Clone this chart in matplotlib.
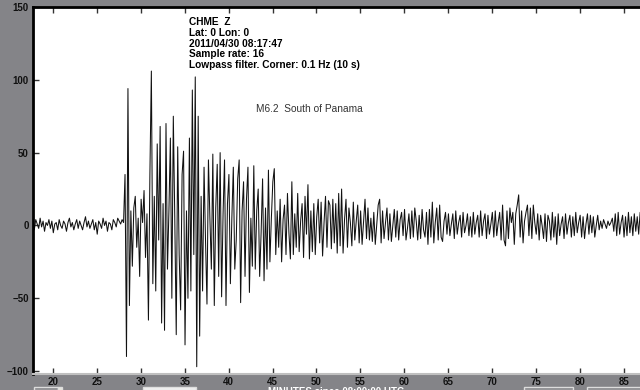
import numpy as np
import matplotlib
matplotlib.use("Agg")
import matplotlib.pyplot as plt
from matplotlib.patches import Rectangle

# trace: one value every 10 s, starting at 17.7 minutes after 08:00 UTC
start_min = 17.7
step_min = 1.0 / 6.0
trace = [
    # pre-event noise
    2, -3, 4, 1, -2, 5, -1, 3, -4, 2,
    0, 4, -2, 3, -5, 1, 2, -3, 4, 0,
    -2, 3, 1, -4, 2, 5, -1, 2, -3, 1,
    4, -2, 3, 0, -3, 2, 6, -1, 3, -2,
    1, 4, -3, 2, -6, 3, 1, -2, 5, 0,
    3, -4, 2, 1, -3, 4, 2, -1, 5, 3,
    1, 4, 2,
    # onset and strongest shaking
    35, -90, 94, -55, 10, -28, 12, 20, -15, 5,
    -35, 18, 2, 24, -22, 8, -65, 35, 106, -40,
    20, -45, 56, -10, 68, -67, 15, -72, 70, -30,
    10, 60, -50, 75, 5, -75, 54, -20, -58, 35,
    51, -82, 10, -50, 60, -45, 93, -20, 102, -97,
    75, -76, 20, -45, 40, -10, -54, 45, 5, -30,
    49, -55, 12, 42, -35, 50, -49, 8, 45, -55,
    15, 35, -40, 5, 40, -30, -10, 32, 45, -53,
    10, 30, -35, 18, 40, -46, 5, -28, 41, -30,
    10, 25, -35, -5, 32, -38, 12, -30, 38, -25,
    5, 30, 39, -20, 10, -15, 18, -25, 4, 14,
    -20, 22, -5, -23, 30, -20, 8, -15, 22, -18,
    3, 15, -22, 20, -6, 28, -23, 10, -18, 15,
    -20, 6, 18, -12, 16, -21, 2, 20, -15, 17,
    14, -16, 18, -12, 15, -19, 22, -14,
    # coda
    25, -19, 4, 18, -15, 12, 2, -14, 16, -10,
    3, 14, -12, 10, -13, 2, 18, -9, 12, -10,
    5, -11, 9, -13, 1, 14, 18, -12, 10, -9,
    2, 12, -10, 8, -11, 0, 11, -8, 10, -10,
    4, 9, -7, 11, -10, -2, 8, -9, 10, -8,
    12, 3, -10, 7, -9, 11, -3, -8, 9, -13,
    11, -8, 16, -12, 2, 12, -10, 14, -8, -11,
    3, 9, -6, 8, -7, 1, 8, -9, 10, -6,
    2, 7, -8, 9, -5, 0, 8, -7, 6, -8,
    9, -6, 2, 7, -8, 10, -7, 3, 8, -9,
    7, -6, 1, 9, -8, 10, -7, 2, 9, -10,
    14, -10, -14, 10, -9, 12, 2, 9, -13, 8,
    14, 21, -8, 10, -12, 3, 9, 14, -7, 12,
    -9, 14, 2, -6, 8, -10, 7, 0, -9, 8,
    -11, 7, 3, -10, 9, -8, 6, -13, 8, -7,
    1, 6, -9, 8, -6, 2, 7, -8, 6, -7,
    9, -5, 2, 7, -8, 6, -9, 1, 8, -6,
    7, -5, 6, -8, 0, 7, -3, 3, -2, 4,
    1, -2, 3, 0, 2, 5, -4, 8, -7, 9,
    -6, 2, 7, -8, 6, -7, 9, -5, 6, -7,
    8, -4, 6, -6, 9, -3, 4, 2,
]

x_ticks = list(range(20, 90, 5))
y_ticks = [-100, -50, 0, 50, 100, 150]

header_lines = [
    "CHME  Z",
    "Lat: 0 Lon: 0",
    "2011/04/30 08:17:47",
    "Sample rate: 16",
    "Lowpass filter. Corner: 0.1 Hz (10 s)",
]
event_label = "M6.2  South of Panama"
x_caption = "MINUTES since 08:00:00 UTC"

W, H = 640, 390
bg = "#848488"

fig = plt.figure(figsize=(W / 100, H / 100), dpi=100)
fig.patch.set_facecolor(bg)
ax = fig.add_axes([33 / W, (H - 374) / H, (W - 33) / W, 367 / H])
ax.set_facecolor("white")

t = start_min + step_min * np.arange(len(trace))
ax.plot(t, trace, color="#111111", lw=0.75)

ax.set_xlim(17.72, 86.85)
ax.set_ylim(-102, 150)
ax.set_xticks(x_ticks)
ax.set_yticks(y_ticks)
ax.tick_params(axis="x", direction="in", top=True, length=4, width=1,
               color="#333333", pad=2.5, labelsize=7)
ax.tick_params(axis="y", direction="in", length=4, width=1,
               color="#333333", pad=3, labelsize=7)
for lab in ax.get_xticklabels() + ax.get_yticklabels():
    lab.set_fontfamily("Liberation Sans")
    lab.set_fontweight("bold")
    lab.set_color("#111111")

ax.spines["left"].set_linewidth(2)
ax.spines["top"].set_linewidth(2)
ax.spines["left"].set_color("black")
ax.spines["top"].set_color("black")
ax.spines["bottom"].set_color("#c0c0c0")
ax.spines["bottom"].set_linewidth(1.5)
ax.spines["right"].set_visible(False)

for i, line in enumerate(header_lines):
    fig.text(189 / W, 1 - (17 + i * 10.8) / H, line, fontsize=7.3,
             fontweight="bold", family="Liberation Sans", va="top", ha="left")

fig.text(256 / W, 1 - 104 / H, event_label, fontsize=7.3,
         family="Liberation Sans", color="#333333", va="top", ha="left")

# bits of the window controls below the plot
for x0, x1, fc in [(34, 58, bg), (58, 62, "#e8e8dc"), (143, 196, "#f2f2f2"),
                   (524, 573, bg), (587, 645, bg)]:
    fig.patches.append(Rectangle((x0 / W, 0), (x1 - x0) / W, 3.5 / H,
                                 transform=fig.transFigure, facecolor=fc,
                                 edgecolor="#dddddd", lw=1))

fig.text(268 / W, 3.0 / H, x_caption, fontsize=7, fontweight="bold",
         family="Liberation Sans", color="white", va="top", ha="left")

fig.savefig("out.png", dpi=100, facecolor=bg)
